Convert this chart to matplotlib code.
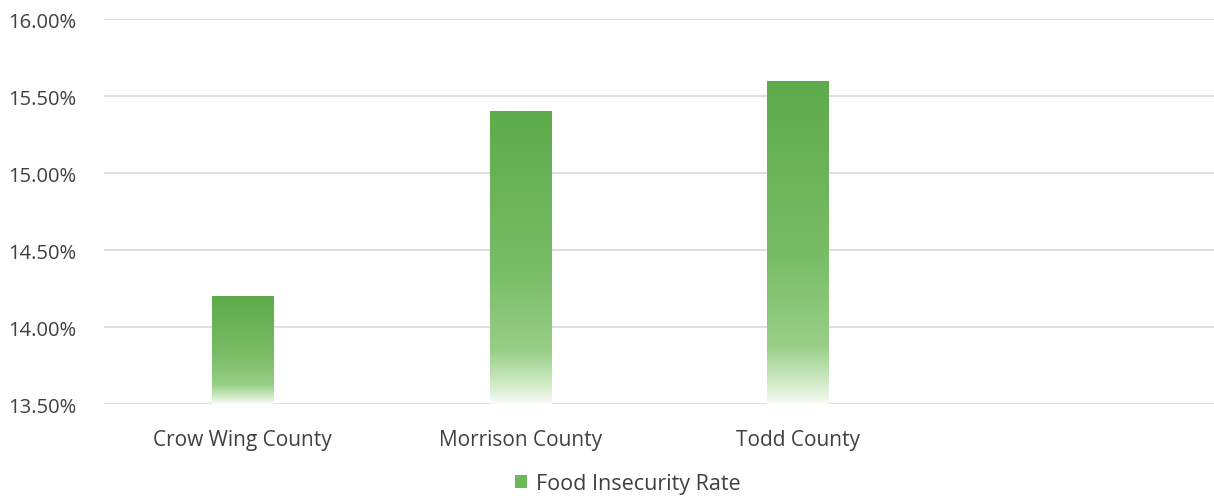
import matplotlib.pyplot as plt
import numpy as np
from matplotlib.colors import LinearSegmentedColormap
from matplotlib.patches import Patch
from matplotlib.ticker import FuncFormatter

# Data
counties = ["Crow Wing County", "Morrison County", "Todd County", ""]
rates = [14.2, 15.4, 15.6, None]
series_name = "Food Insecurity Rate"
y_ticks = [13.5, 14.0, 14.5, 15.0, 15.5, 16.0]

plt.rcParams['font.family'] = ['Open Sans', 'DejaVu Sans']
TEXT = "#404040"

# bottom -> top gradient for the bars
cmap = LinearSegmentedColormap.from_list(
    "bar_green",
    [(0.0, "#f8fcf6"), (0.06, "#d4ecca"), (0.18, "#98cf87"),
     (0.45, "#79bd67"), (1.0, "#5dab4b")])

fig = plt.figure(figsize=(12.14, 5.02), dpi=100)
ax = fig.add_axes([0.0857, 0.193, 0.9143, 0.767])

base = y_ticks[0]
x = np.arange(len(counties))
heights = [(r - base) if r is not None else 0 for r in rates]
bars = ax.bar(x, heights, width=0.22, bottom=base,
              facecolor="none", edgecolor="none", zorder=3)

grad = np.linspace(0, 1, 256).reshape(-1, 1)
for b, r in zip(bars, rates):
    if r is None:
        continue
    x0, w = b.get_x(), b.get_width()
    im = ax.imshow(grad, cmap=cmap, origin="lower", aspect="auto",
                   extent=[x0, x0 + w, base, r], zorder=3)
    im.set_clip_path(b)

ax.set_xlim(-0.5, len(counties) - 0.5)
ax.set_ylim(base, y_ticks[-1])
ax.set_yticks(y_ticks)
ax.yaxis.set_major_formatter(FuncFormatter(lambda v, p: f"{v:.2f}%"))
ax.set_xticks(x)
ax.set_xticklabels(counties)
ax.tick_params(axis="both", length=0, labelcolor=TEXT)
ax.tick_params(axis="x", pad=18, labelsize=15)
ax.tick_params(axis="y", pad=20, labelsize=14.5)

ax.grid(axis="y", color="#d9d9d9", linewidth=1.2, zorder=0)
ax.set_axisbelow(True)
for s in ax.spines.values():
    s.set_visible(False)

handle = Patch(facecolor="#6cb85a", edgecolor="none")
fig.legend([handle], [series_name], loc="lower center",
           bbox_to_anchor=(0.517, -0.025), frameon=False, fontsize=15.5,
           labelcolor=TEXT, handlelength=0.55, handleheight=0.55,
           handletextpad=0.4)

fig.savefig("out.png", dpi=100, facecolor="white")
